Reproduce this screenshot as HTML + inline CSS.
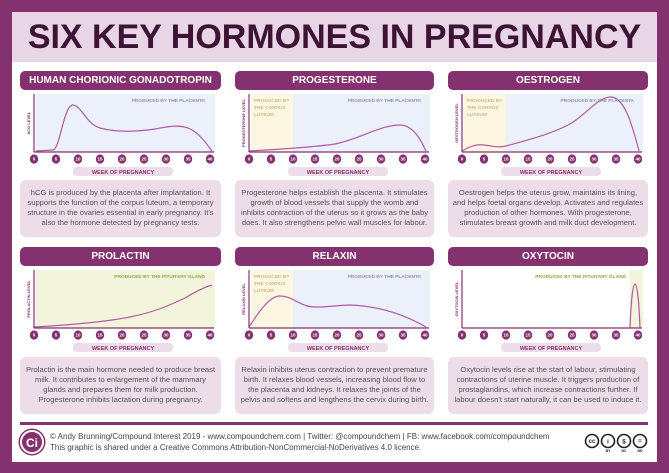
<!DOCTYPE html>
<html><head><meta charset="utf-8"><style>
*{margin:0;padding:0;box-sizing:border-box}
body{width:669px;height:473px;background:#84326f;position:relative;overflow:hidden;font-family:"Liberation Sans",sans-serif}
.inner{position:absolute;left:12px;top:12px;width:645px;height:450px;background:#fff}
.title{position:absolute;left:12px;top:12px;width:645px;height:50px;background:#e8d6e6;color:#3d1436;font-weight:bold;font-size:34px;text-align:center;line-height:50px;letter-spacing:0}
.hdr{position:absolute;height:19px;background:#84326f;color:#fff;font-weight:bold;font-size:10px;text-align:center;line-height:19px;border-radius:5px}
.box{position:absolute;height:57px;background:#ecdde9;border-radius:6px;color:#555;font-size:7.6px;line-height:10px;text-align:center;padding-top:8px}
svg.c{position:absolute;overflow:visible}
.foot{position:absolute;left:50px;color:#444;font-size:8px}
</style></head><body>
<div class="inner"></div>
<div class="title">SIX KEY HORMONES IN PREGNANCY</div>

<div class="hdr" style="left:20px;top:71px;width:201px">HUMAN CHORIONIC GONADOTROPIN</div>
<div class="hdr" style="left:235px;top:71px;width:199px">PROGESTERONE</div>
<div class="hdr" style="left:448px;top:71px;width:200px">OESTROGEN</div>
<div class="hdr" style="left:20px;top:247px;width:201px">PROLACTIN</div>
<div class="hdr" style="left:235px;top:247px;width:199px">RELAXIN</div>
<div class="hdr" style="left:448px;top:247px;width:200px">OXYTOCIN</div>

<svg width="0" height="0" style="position:absolute"><defs>
<g id="ax">
<line x1="14" y1="0" x2="14" y2="58" stroke="#84326f" stroke-width="1.2"/>
<line x1="14" y1="58" x2="194" y2="58" stroke="#84326f" stroke-width="1.2"/>
<g fill="#84326f"><ellipse cx="14" cy="65" rx="4.2" ry="4.6"/><ellipse cx="36" cy="65" rx="4.2" ry="4.6"/><ellipse cx="58" cy="65" rx="4.2" ry="4.6"/><ellipse cx="80" cy="65" rx="4.2" ry="4.6"/><ellipse cx="102" cy="65" rx="4.2" ry="4.6"/><ellipse cx="124" cy="65" rx="4.2" ry="4.6"/><ellipse cx="146" cy="65" rx="4.2" ry="4.6"/><ellipse cx="168" cy="65" rx="4.2" ry="4.6"/><ellipse cx="190" cy="65" rx="4.2" ry="4.6"/></g>
<g fill="#fff" font-size="4.5" font-weight="bold" text-anchor="middle" font-family="Liberation Sans"><text x="14" y="66.6">0</text><text x="36" y="66.6">5</text><text x="58" y="66.6">10</text><text x="80" y="66.6">15</text><text x="102" y="66.6">20</text><text x="124" y="66.6">25</text><text x="146" y="66.6">30</text><text x="168" y="66.6">35</text><text x="190" y="66.6">40</text></g>
<rect x="53" y="73" width="100" height="9" rx="4" fill="#ecdde9"/>
<text x="103" y="80" fill="#84326f" font-size="5.5" font-weight="bold" text-anchor="middle" font-family="Liberation Sans">WEEK OF PREGNANCY</text>
</g></defs></svg>

<!-- HCG -->
<svg class="c" style="left:20px;top:94px" width="201" height="85">
<rect x="16" y="0" width="179" height="58" fill="#ebf0fa"/>
<text x="185" y="8" fill="#8b95a3" font-size="4.8" font-weight="bold" text-anchor="end">PRODUCED BY THE PLACENTA</text>
<text transform="translate(10,29) rotate(-90)" fill="#84326f" font-size="4" font-weight="bold" text-anchor="middle">hCG LEVEL</text>
<path d="M16,57 L33,56 C40,55 44,10 53,11 C62,12 66,30 80,34 C95,38 115,38 135,35 C150,32 162,30 172,36 C182,42 188,52 192,57" fill="none" stroke="#b15aa6" stroke-width="1.2"/>
<use href="#ax"/></svg>

<!-- Progesterone -->
<svg class="c" style="left:235px;top:94px" width="201" height="85">
<rect x="16" y="0" width="42" height="58" fill="#fdf6e0"/>
<rect x="58" y="0" width="137" height="58" fill="#ebf0fa"/>
<text x="19" y="8" fill="#c9bb8a" font-size="4.8" font-weight="bold">PRODUCED BY</text>
<text x="19" y="15" fill="#c9bb8a" font-size="4.8" font-weight="bold">THE CORPUS</text>
<text x="19" y="22" fill="#c9bb8a" font-size="4.8" font-weight="bold">LUTEUM</text>
<text x="186" y="8" fill="#8b95a3" font-size="4.8" font-weight="bold" text-anchor="end">PRODUCED BY THE PLACENTA</text>
<text transform="translate(10,29) rotate(-90)" fill="#84326f" font-size="4" font-weight="bold" text-anchor="middle">PROGESTERONE LEVEL</text>
<path d="M14,57 C50,55 80,53 100,50 C125,45 145,31 165,31 C178,31 186,46 191,57" fill="none" stroke="#b15aa6" stroke-width="1.2"/>
<use href="#ax"/></svg>

<!-- Oestrogen -->
<svg class="c" style="left:448px;top:94px" width="201" height="85">
<rect x="16" y="0" width="42" height="58" fill="#fdf6e0"/>
<rect x="58" y="0" width="137" height="58" fill="#ebf0fa"/>
<text x="19" y="8" fill="#c9bb8a" font-size="4.8" font-weight="bold">PRODUCED BY</text>
<text x="19" y="15" fill="#c9bb8a" font-size="4.8" font-weight="bold">THE CORPUS</text>
<text x="19" y="22" fill="#c9bb8a" font-size="4.8" font-weight="bold">LUTEUM</text>
<text x="186" y="8" fill="#8b95a3" font-size="4.8" font-weight="bold" text-anchor="end">PRODUCED BY THE PLACENTA</text>
<text transform="translate(10,29) rotate(-90)" fill="#84326f" font-size="4" font-weight="bold" text-anchor="middle">OESTROGEN LEVEL</text>
<path d="M14,57 C22,52 30,50 36,51 C45,52 50,54 58,52 C80,46 110,38 125,28 C140,18 150,4 162,3 C176,2 184,30 191,57" fill="none" stroke="#b15aa6" stroke-width="1.2"/>
<use href="#ax"/></svg>

<!-- Prolactin -->
<svg class="c" style="left:20px;top:270px" width="201" height="85">
<rect x="16" y="0" width="179" height="58" fill="#f2f5dc"/>
<text x="185" y="8" fill="#8fa83a" font-size="4.8" font-weight="bold" text-anchor="end">PRODUCED BY THE PITUITARY GLAND</text>
<text transform="translate(10,29) rotate(-90)" fill="#84326f" font-size="4" font-weight="bold" text-anchor="middle">PROLACTIN LEVEL</text>
<path d="M14,57 C50,55 85,52 110,47 C135,42 150,35 165,28 C175,22 185,17 192,15" fill="none" stroke="#b15aa6" stroke-width="1.2"/>
<use href="#ax"/></svg>

<!-- Relaxin -->
<svg class="c" style="left:235px;top:270px" width="201" height="85">
<rect x="16" y="0" width="42" height="58" fill="#fdf6e0"/>
<rect x="58" y="0" width="137" height="58" fill="#ebf0fa"/>
<text x="19" y="8" fill="#c9bb8a" font-size="4.8" font-weight="bold">PRODUCED BY</text>
<text x="19" y="15" fill="#c9bb8a" font-size="4.8" font-weight="bold">THE CORPUS</text>
<text x="19" y="22" fill="#c9bb8a" font-size="4.8" font-weight="bold">LUTEUM</text>
<text x="186" y="8" fill="#8b95a3" font-size="4.8" font-weight="bold" text-anchor="end">PRODUCED BY THE PLACENTA</text>
<text transform="translate(10,29) rotate(-90)" fill="#84326f" font-size="4" font-weight="bold" text-anchor="middle">RELAXIN LEVEL</text>
<path d="M14,57 C25,40 35,26 45,26 C58,26 65,37 80,37 C95,37 105,35 115,35 C140,36 165,42 191,57" fill="none" stroke="#b15aa6" stroke-width="1.2"/>
<use href="#ax"/></svg>

<!-- Oxytocin -->
<svg class="c" style="left:448px;top:270px" width="201" height="85">
<rect x="182" y="0" width="13" height="58" fill="#f2f5dc"/>
<text x="178" y="8" fill="#8fa83a" font-size="4.8" font-weight="bold" text-anchor="end">PRODUCED BY THE PITUITARY GLAND</text>
<text transform="translate(10,29) rotate(-90)" fill="#84326f" font-size="4" font-weight="bold" text-anchor="middle">OXYTOCIN LEVEL</text>
<path d="M182,58 C183,30 185,14 187,14 C189,14 191,30 192,58" fill="none" stroke="#b15aa6" stroke-width="1.2"/>
<use href="#ax"/></svg>

<div class="box" style="left:20px;top:180px;width:201px">hCG is produced by the placenta after implantation. It<br>supports the function of the corpus luteum, a temporary<br>structure in the ovaries essential in early pregnancy. It's<br>also the hormone detected by pregnancy tests.</div>
<div class="box" style="left:235px;top:180px;width:199px">Progesterone helps establish the placenta. It stimulates<br>growth of blood vessels that supply the womb and<br>inhibits contraction of the uterus so it grows as the baby<br>does. It also strengthens pelvic wall muscles for labour.</div>
<div class="box" style="left:448px;top:180px;width:200px">Oestrogen helps the uterus grow, maintains its lining,<br>and helps foetal organs develop. Activates and regulates<br>production of other hormones. With progesterone,<br>stimulates breast growth and milk duct development.</div>
<div class="box" style="left:20px;top:357px;width:201px">Prolactin is the main hormone needed to produce breast<br>milk. It contributes to enlargement of the mammary<br>glands and prepares them for milk production.<br>Progesterone inhibits lactation during pregnancy.</div>
<div class="box" style="left:235px;top:357px;width:199px">Relaxin inhibits uterus contraction to prevent premature<br>birth. It relaxes blood vessels, increasing blood flow to<br>the placenta and kidneys. It relaxes the joints of the<br>pelvis and softens and lengthens the cervix during birth.</div>
<div class="box" style="left:448px;top:357px;width:200px">Oxytocin levels rise at the start of labour, stimulating<br>contractions of uterine muscle. It triggers production of<br>prostaglandins, which increase contractions further. If<br>labour doesn't start naturally, it can be used to induce it.</div>

<div style="position:absolute;left:20px;top:422px;width:628px;height:3px;background:#84326f"></div>
<div style="position:absolute;left:20px;top:430px;width:24px;height:24px;border-radius:50%;background:#84326f;color:#fff;font-weight:bold;font-size:12px;text-align:center;line-height:22px;border:2px solid #fff;box-shadow:0 0 0 1.5px #84326f">Ci</div>
<div class="foot" style="top:432px">© Andy Brunning/Compound Interest 2019 - www.compoundchem.com | Twitter: @compoundchem | FB: www.facebook.com/compoundchem</div>
<div class="foot" style="top:443px">This graphic is shared under a Creative Commons Attribution-NonCommercial-NoDerivatives 4.0 licence.</div>
<svg class="c" style="left:584px;top:434px" width="66" height="20">
<g fill="#fff" stroke="#222" stroke-width="1.6"><circle cx="8" cy="7" r="6.5"/><circle cx="24" cy="7" r="6.5"/><circle cx="40" cy="7" r="6.5"/><circle cx="56" cy="7" r="6.5"/></g>
<g font-size="6" font-weight="bold" fill="#222" text-anchor="middle"><text x="8" y="9">cc</text><text x="24" y="9.5">i</text><text x="40" y="9.5">$</text><text x="56" y="9">=</text></g>
<g font-size="3.5" font-weight="bold" fill="#222" text-anchor="middle"><text x="24" y="18">BY</text><text x="40" y="18">NC</text><text x="56" y="18">ND</text></g>
</svg>
</body></html>
